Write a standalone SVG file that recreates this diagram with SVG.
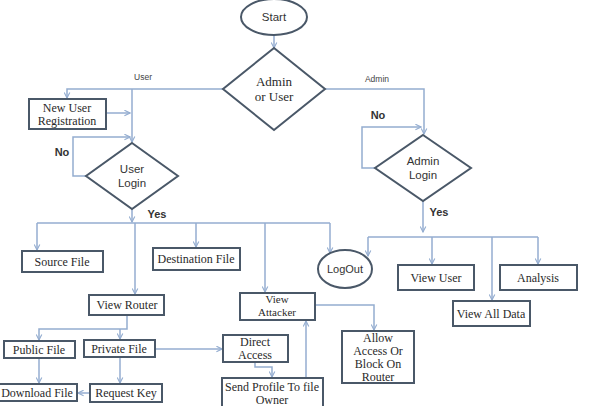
<svg xmlns="http://www.w3.org/2000/svg" width="594" height="406" viewBox="0 0 594 406">
<style>
.box{fill:#fff;stroke:#4a5868;stroke-width:2}
.shape{fill:#fff;stroke:#4a5868;stroke-width:2}
.ln{fill:none;stroke:#94add0;stroke-width:1.5}
.serif{font-family:"Liberation Serif","Times New Roman",serif;font-size:12px;fill:#2a2a2a;text-anchor:middle}
.sm{font-size:11px}
.sans{font-family:"Liberation Sans",Arial,sans-serif;font-size:11.5px;fill:#333;text-anchor:middle}
.lbl{font-family:"Liberation Sans",Arial,sans-serif;font-size:8.5px;fill:#444;text-anchor:middle}
.bold{font-family:"Liberation Sans",Arial,sans-serif;font-size:11px;font-weight:bold;fill:#333;text-anchor:middle}
</style>
<defs>
<marker id="ah" viewBox="0 0 10 10" refX="9" refY="5" markerWidth="7" markerHeight="7" orient="auto-start-reverse" markerUnits="userSpaceOnUse">
<path d="M1,1 L9,5 L1,9" fill="none" stroke="#94add0" stroke-width="1.6"/>
</marker>
</defs>
<rect width="594" height="406" fill="#fff"/>
<g id="connectors">
<path class="ln" d="M274,35 V48" marker-end="url(#ah)"/>
<path class="ln" d="M223,89 H67 V98" marker-end="url(#ah)"/>
<path class="ln" d="M132,89 V142" marker-end="url(#ah)"/>
<path class="ln" d="M106,113 H130" marker-end="url(#ah)"/>
<path class="ln" d="M86,176 H73 V137 H130" marker-end="url(#ah)"/>
<path class="ln" d="M325,89 H424 V134" marker-end="url(#ah)"/>
<path class="ln" d="M375,168 H362 V127 H421" marker-end="url(#ah)"/>
<path class="ln" d="M132,209 V222" marker-end="url(#ah)"/>
<path class="ln" d="M37,223 H330"/>
<path class="ln" d="M37,223 V250" marker-end="url(#ah)"/>
<path class="ln" d="M135,223 V294" marker-end="url(#ah)"/>
<path class="ln" d="M196,223 V247" marker-end="url(#ah)"/>
<path class="ln" d="M265,223 V292" marker-end="url(#ah)"/>
<path class="ln" d="M330,223 V253" marker-end="url(#ah)"/>
<path class="ln" d="M423,201 V232" marker-end="url(#ah)"/>
<path class="ln" d="M368,237 H538"/>
<path class="ln" d="M368,237 V256" marker-end="url(#ah)"/>
<path class="ln" d="M432,237 V264" marker-end="url(#ah)"/>
<path class="ln" d="M492,237 V300" marker-end="url(#ah)"/>
<path class="ln" d="M538,237 V264" marker-end="url(#ah)"/>
<path class="ln" d="M127,315 V329 H39 V340" marker-end="url(#ah)"/>
<path class="ln" d="M120,329 V339" marker-end="url(#ah)"/>
<path class="ln" d="M39,358 V383" marker-end="url(#ah)"/>
<path class="ln" d="M120,357 V383" marker-end="url(#ah)"/>
<path class="ln" d="M90,393 H78" marker-end="url(#ah)"/>
<path class="ln" d="M155,349 H222" marker-end="url(#ah)"/>
<path class="ln" d="M255,362 V367 H272 V377" marker-end="url(#ah)"/>
<path class="ln" d="M306,378 V321" marker-end="url(#ah)"/>
<path class="ln" d="M315,305 H374 V330" marker-end="url(#ah)"/>
</g>
<g id="labels">
<text class="lbl" x="143" y="80">User</text>
<text class="lbl" x="377" y="82">Admin</text>
<text class="bold" x="62" y="156">No</text>
<text class="bold" x="378" y="119">No</text>
<text class="bold" x="157" y="218">Yes</text>
<text class="bold" x="439" y="216">Yes</text>
</g>
<g id="start">
<ellipse class="shape" cx="274" cy="17" rx="33" ry="18"/>
<text class="sans" x="274" y="21">Start</text>
</g>
<g id="admin-or-user">
<polygon class="shape" points="274,48 325,89 274,130 223,89"/>
<text class="serif" style="font-size:13px" x="274" y="86">Admin</text>
<text class="serif" style="font-size:13px" x="274" y="101">or User</text>
</g>
<g id="new-user-registration">
<rect class="box" x="29" y="99" width="77" height="30"/>
<text class="serif" x="67" y="112">New User</text>
<text class="serif" x="67" y="125">Registration</text>
</g>
<g id="user-login">
<polygon class="shape" points="132,143 178,176 132,209 86,176"/>
<text class="sans" x="132" y="173">User</text>
<text class="sans" x="132" y="187">Login</text>
</g>
<g id="admin-login">
<polygon class="shape" points="423,135 471,168 423,201 375,168"/>
<text class="sans" x="423" y="165">Admin</text>
<text class="sans" x="423" y="179">Login</text>
</g>
<g id="source-file">
<rect class="box" x="22" y="251" width="81" height="21"/>
<text class="serif" x="62" y="266">Source File</text>
</g>
<g id="destination-file">
<rect class="box" x="153" y="248" width="87" height="22"/>
<text class="serif" x="196" y="263">Destination File</text>
</g>
<g id="logout">
<ellipse class="shape" cx="345" cy="269" rx="27" ry="19"/>
<text class="sans" style="font-size:11px" x="345" y="273">LogOut</text>
</g>
<g id="view-user">
<rect class="box" x="398" y="265" width="76" height="25"/>
<text class="serif" x="436" y="282">View User</text>
</g>
<g id="analysis">
<rect class="box" x="500" y="265" width="77" height="25"/>
<text class="serif" x="538" y="282">Analysis</text>
</g>
<g id="view-all-data">
<rect class="box" x="453" y="301" width="77" height="25"/>
<text class="serif" x="491" y="318">View All Data</text>
</g>
<g id="view-router">
<rect class="box" x="89" y="295" width="75" height="20"/>
<text class="serif" x="127" y="309">View Router</text>
</g>
<g id="view-attacker">
<rect class="box" x="240" y="293" width="75" height="27"/>
<text class="serif sm" x="277" y="303">View</text>
<text class="serif sm" x="277" y="316">Attacker</text>
</g>
<g id="public-file">
<rect class="box" x="4" y="341" width="71" height="17"/>
<text class="serif" x="39" y="354">Public File</text>
</g>
<g id="private-file">
<rect class="box" x="84" y="340" width="71" height="17"/>
<text class="serif" x="119" y="353">Private File</text>
</g>
<g id="download-file">
<rect class="box" x="-2" y="384" width="79" height="17"/>
<text class="serif" x="37" y="397">Download File</text>
</g>
<g id="request-key">
<rect class="box" x="90" y="384" width="72" height="18"/>
<text class="serif" x="126" y="397">Request Key</text>
</g>
<g id="direct-access">
<rect class="box" x="223" y="335" width="65" height="27"/>
<text class="serif" x="255" y="346">Direct</text>
<text class="serif" x="255" y="359">Access</text>
</g>
<g id="send-profile">
<rect class="box" x="222" y="378" width="101" height="30"/>
<text class="serif" x="272" y="391">Send Profile To file</text>
<text class="serif" x="272" y="404">Owner</text>
</g>
<g id="allow-access">
<rect class="box" x="342" y="331" width="72" height="52"/>
<text class="serif" x="378" y="342">Allow</text>
<text class="serif" x="378" y="355">Access Or</text>
<text class="serif" x="378" y="368">Block On</text>
<text class="serif" x="378" y="381">Router</text>
</g>
</svg>
